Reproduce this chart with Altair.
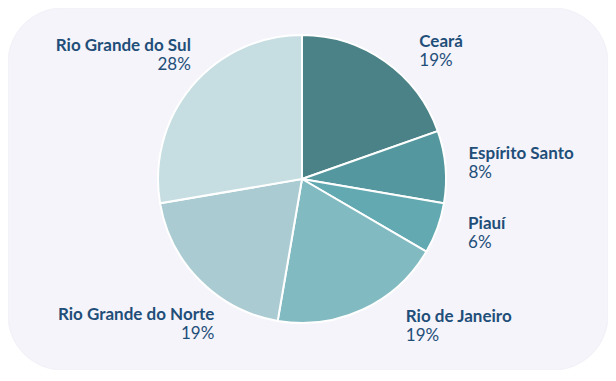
import altair as alt
import pandas as pd

# ---- data ----
states = ["Ceará", "Espírito Santo", "Piauí", "Rio de Janeiro",
          "Rio Grande do Norte", "Rio Grande do Sul"]
shares = [19.6, 8.1, 5.7, 19.3, 19.6, 27.7]
share_labels = ["19%", "8%", "6%", "19%", "19%", "28%"]
colors = ["#4a8287", "#55979e", "#62a9b1", "#82bac2", "#aacbd1", "#c6dee2"]

df = pd.DataFrame({"state": states, "share": shares, "label": share_labels,
                   "order": list(range(len(states)))})

# ---- layout / style ----
W, H = 600, 362
CX, CY = 294, 171
PIE_R = 144
LABEL_R = 165
TEXT_COLOR = "#1f4e79"
FONT = "Lato"
FONT_SIZE = 17
total = float(sum(shares))

# per-label offsets (align, dx, dy) from the polar anchor
label_style = {
    "Ceará": ("left", 22, 3),
    "Espírito Santo": ("left", 2, -6),
    "Piauí": ("left", 11, -6),
    "Rio de Janeiro": ("left", 34, -7),
    "Rio Grande do Norte": ("right", 29, 24),
    "Rio Grande do Sul": ("right", 15, -22),
}

theta_scale = alt.Scale(domain=[0, total], range=[0, 6.283185307179586])

base = (
    alt.Chart(df)
    .transform_window(cum="sum(share)", sort=[alt.SortField("order")],
                      frame=[None, 0])
    .transform_calculate(start="datum.cum - datum.share",
                         mid="datum.cum - datum.share / 2")
)

bg = (
    alt.Chart(pd.DataFrame({"a": [0]}))
    .mark_rect(cornerRadius=55, fill="#f4f4fa", stroke="#f0f0f7", strokeWidth=1)
    .encode(x=alt.value(0), x2=alt.value(W), y=alt.value(0), y2=alt.value(H))
)

pie = base.mark_arc(radius=PIE_R, stroke="white", strokeWidth=2).encode(
    theta=alt.Theta("start:Q", scale=theta_scale),
    theta2="cum:Q",
    color=alt.Color("state:N", scale=alt.Scale(domain=states, range=colors),
                    legend=None),
    x=alt.value(CX),
    y=alt.value(CY),
)

layers = [bg, pie]
for st in states:
    align, dx, dy = label_style[st]
    f = base.transform_filter(alt.datum.state == st)
    name_txt = f.mark_text(radius=LABEL_R, align=align, baseline="alphabetic",
                           dx=dx, dy=dy, font=FONT, fontSize=FONT_SIZE,
                           fontWeight="bold", color=TEXT_COLOR).encode(
        theta=alt.Theta("mid:Q", scale=theta_scale),
        text="state:N", x=alt.value(CX), y=alt.value(CY))
    pct_txt = f.mark_text(radius=LABEL_R, align=align, baseline="alphabetic",
                          dx=dx, dy=dy + 19, font=FONT, fontSize=FONT_SIZE,
                          fontWeight="normal", color=TEXT_COLOR).encode(
        theta=alt.Theta("mid:Q", scale=theta_scale),
        text="label:N", x=alt.value(CX), y=alt.value(CY))
    layers += [name_txt, pct_txt]

chart = (
    alt.layer(*layers)
    .properties(width=W, height=H, padding=0,
                autosize=alt.AutoSizeParams(type="none"), background="white")
    .configure_view(stroke=None)
)

chart.save("out.html", embed_options={"renderer": "svg", "actions": False})
